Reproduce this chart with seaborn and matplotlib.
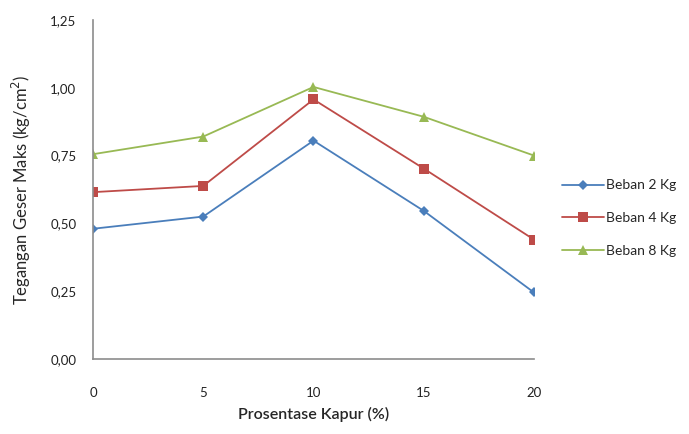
import pandas as pd
import matplotlib
matplotlib.use('Agg')
import matplotlib.pyplot as plt
import seaborn as sns

# data
kapur = [0, 5, 10, 15, 20]
beban_2 = [0.48, 0.525, 0.805, 0.546, 0.245]
beban_4 = [0.615, 0.638, 0.957, 0.702, 0.44]
beban_8 = [0.755, 0.82, 1.003, 0.893, 0.75]
series_names = ['Beban 2 Kg', 'Beban 4 Kg', 'Beban 8 Kg']
y_ticks = [0, 0.25, 0.5, 0.75, 1.0, 1.25]

df = pd.DataFrame({
    'kapur': kapur * 3,
    'tegangan': beban_2 + beban_4 + beban_8,
    'seri': [s for s in series_names for _ in kapur],
})

sns.set_style('white')
plt.rcParams['font.family'] = ['Lato', 'DejaVu Sans']

colors = {'Beban 2 Kg': '#4A7EBB', 'Beban 4 Kg': '#BE4B48', 'Beban 8 Kg': '#98B954'}
markers = {'Beban 2 Kg': 'D', 'Beban 4 Kg': 's', 'Beban 8 Kg': '^'}
sizes = {'Beban 2 Kg': 5, 'Beban 4 Kg': 7, 'Beban 8 Kg': 7}

fig = plt.figure(figsize=(6.89, 4.34), dpi=100)
ax = fig.add_axes([0.135, 0.173, 0.64, 0.781])

for name in series_names:
    sub = df[df['seri'] == name]
    sns.lineplot(data=sub, x='kapur', y='tegangan', ax=ax, color=colors[name],
                 marker=markers[name], markersize=sizes[name], markeredgewidth=0,
                 linewidth=1.3, label=name)

ax.set_xlim(0, 20)
ax.set_ylim(0, 1.25)
ax.set_xticks(kapur)
ax.set_yticks(y_ticks)
ax.set_yticklabels([f'{v:.2f}'.replace('.', ',') for v in y_ticks])
ax.tick_params(axis='both', length=0, labelsize=9.5, colors='#222222')
ax.tick_params(axis='x', pad=20)
ax.tick_params(axis='y', pad=12)

for side in ['top', 'right']:
    ax.spines[side].set_visible(False)
for side in ['left', 'bottom']:
    ax.spines[side].set_color('#8c8c8c')
    ax.spines[side].set_linewidth(1.2)

ax.set_xlabel('Prosentase Kapur (%)', fontsize=11.5, fontweight='semibold', labelpad=6)
ax.set_ylabel('Tegangan Geser Maks (kg/cm$^2$)', fontsize=12, labelpad=12)

ax.legend(loc='center left', bbox_to_anchor=(1.035, 0.415), frameon=False,
          fontsize=10, handlelength=3.0, handletextpad=0.2, labelspacing=1.5)

fig.savefig('out.png', dpi=100)
